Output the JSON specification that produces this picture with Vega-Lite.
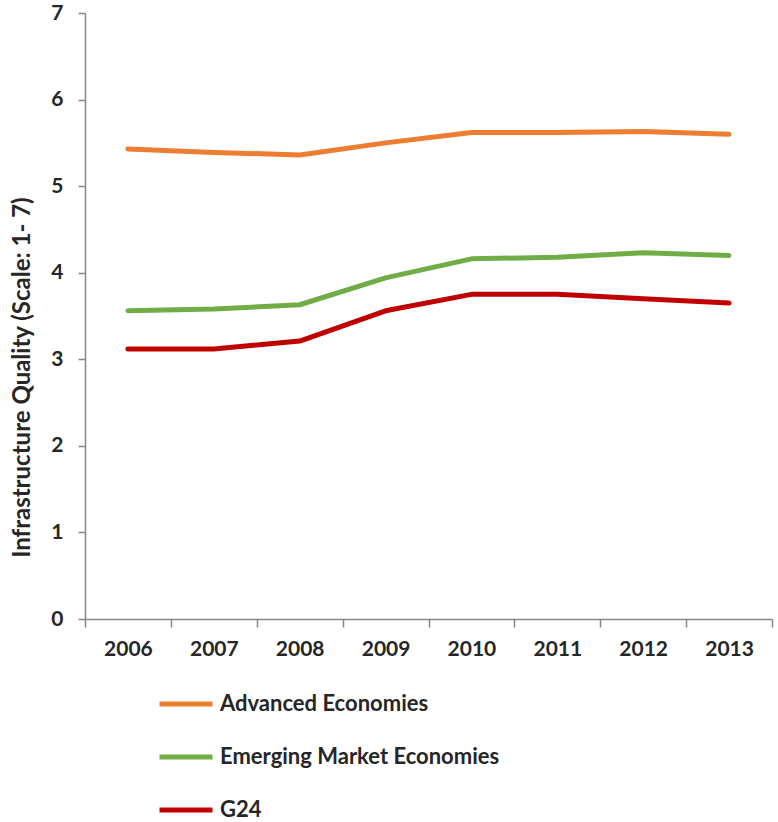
{
  "$schema": "https://vega.github.io/schema/vega-lite/v6.json",
  "width": 687,
  "height": 606,
  "autosize": {"type": "none"},
  "padding": {"left": 85, "top": 13, "right": 6, "bottom": 203},
  "background": "white",
  "config": {
    "view": {"stroke": null},
    "font": "Lato",
    "axis": {"grid": false, "domainColor": "#868686", "tickColor": "#868686", "domainWidth": 1.5, "tickWidth": 1.5, "labelColor": "#262626", "titleColor": "#262626"}
  },
  "data": {
    "values": [
      {"year": "2006", "series": "Advanced Economies", "value": 5.43},
      {"year": "2007", "series": "Advanced Economies", "value": 5.39},
      {"year": "2008", "series": "Advanced Economies", "value": 5.36},
      {"year": "2009", "series": "Advanced Economies", "value": 5.50},
      {"year": "2010", "series": "Advanced Economies", "value": 5.62},
      {"year": "2011", "series": "Advanced Economies", "value": 5.62},
      {"year": "2012", "series": "Advanced Economies", "value": 5.63},
      {"year": "2013", "series": "Advanced Economies", "value": 5.60},
      {"year": "2006", "series": "Emerging Market Economies", "value": 3.56},
      {"year": "2007", "series": "Emerging Market Economies", "value": 3.58},
      {"year": "2008", "series": "Emerging Market Economies", "value": 3.63},
      {"year": "2009", "series": "Emerging Market Economies", "value": 3.94},
      {"year": "2010", "series": "Emerging Market Economies", "value": 4.16},
      {"year": "2011", "series": "Emerging Market Economies", "value": 4.18},
      {"year": "2012", "series": "Emerging Market Economies", "value": 4.23},
      {"year": "2013", "series": "Emerging Market Economies", "value": 4.20},
      {"year": "2006", "series": "G24", "value": 3.12},
      {"year": "2007", "series": "G24", "value": 3.12},
      {"year": "2008", "series": "G24", "value": 3.21},
      {"year": "2009", "series": "G24", "value": 3.56},
      {"year": "2010", "series": "G24", "value": 3.75},
      {"year": "2011", "series": "G24", "value": 3.75},
      {"year": "2012", "series": "G24", "value": 3.70},
      {"year": "2013", "series": "G24", "value": 3.65}
    ]
  },
  "mark": {"type": "line", "strokeWidth": 5, "strokeCap": "round", "strokeJoin": "round"},
  "encoding": {
    "x": {
      "field": "year", "type": "ordinal", "bandPosition": 0.5,
      "scale": {"type": "band", "paddingInner": 0, "paddingOuter": 0},
      "axis": {"title": null, "labelAngle": 0, "tickBand": "extent", "tickSize": 8, "labelPadding": 11, "labelFont": "Lato", "labelFontWeight": "bold", "labelFontSize": 21}
    },
    "y": {
      "field": "value", "type": "quantitative",
      "scale": {"domain": [0, 7], "nice": false},
      "axis": {"title": "Infrastructure Quality (Scale: 1- 7)", "values": [0, 1, 2, 3, 4, 5, 6, 7], "tickSize": 7, "labelPadding": 15, "format": "d",
        "labelFont": "Lato", "labelFontWeight": "bold", "labelFontSize": 21,
        "titleFont": "Lato", "titleFontWeight": "bold", "titleFontSize": 24, "titleAnchor": "middle", "titleAngle": -90, "titleBaseline": "top", "titleX": -75, "titleY": 364, "titleAlign": "center"}
    },
    "color": {
      "field": "series", "type": "nominal",
      "scale": {"domain": ["Advanced Economies", "Emerging Market Economies", "G24"], "range": ["#ED7D31", "#70AD47", "#C00000"]},
      "legend": {
        "title": null, "orient": "none", "legendX": 72, "legendY": 662, "direction": "vertical",
        "symbolType": "stroke", "symbolSize": 2809, "symbolStrokeWidth": 5,
        "labelFont": "Lato", "labelFontWeight": "bold", "labelFontSize": 22, "labelColor": "#262626", "labelLimit": 0,
        "labelOffset": 5, "rowPadding": 13
      }
    }
  }
}
